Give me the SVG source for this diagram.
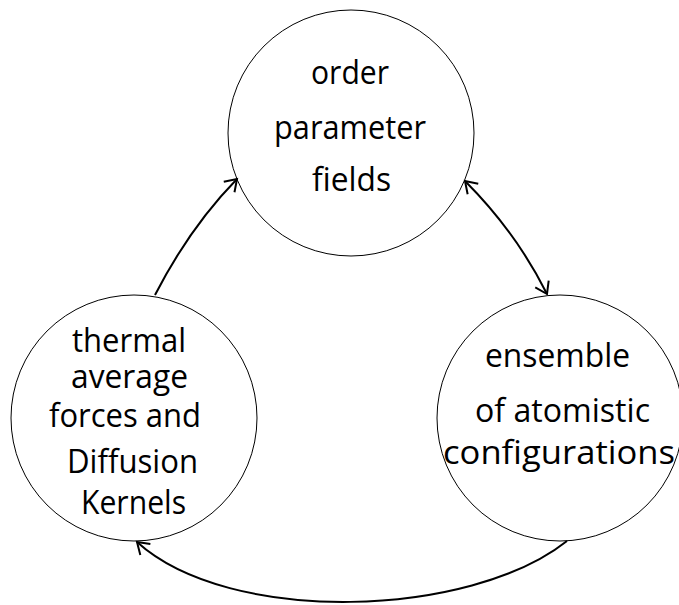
<svg xmlns="http://www.w3.org/2000/svg" width="679" height="605" viewBox="0 0 679 605">
<style>
.node{fill:#fff;stroke:#000;stroke-width:1}
.lbl{font-family:"Open Sans","Noto Sans",sans-serif;font-size:32px;fill:#000;text-anchor:middle}
.edge{fill:none;stroke:#000;stroke-width:2}
</style>
<defs>
<marker id="arr" markerUnits="userSpaceOnUse" markerWidth="20" markerHeight="20" viewBox="-12 -8 14 16" refX="0" refY="0" orient="auto-start-reverse">
<path d="M-9,-6 L0,0 L-9,6" fill="none" stroke="#000" stroke-width="1.6"/>
</marker>
</defs>
<rect width="679" height="605" fill="#fff"/>
<g id="n-order">
<circle class="node" cx="351" cy="133" r="123"/>
<text class="lbl" x="350" y="84" textLength="78" lengthAdjust="spacingAndGlyphs">order</text>
<text class="lbl" x="350" y="139" textLength="152" lengthAdjust="spacingAndGlyphs">parameter</text>
<text class="lbl" x="351.5" y="191" textLength="79" lengthAdjust="spacingAndGlyphs">fields</text>
</g>
<g id="n-thermal">
<circle class="node" cx="134" cy="418" r="123"/>
<text class="lbl" x="129" y="352" textLength="114" lengthAdjust="spacingAndGlyphs">thermal</text>
<text class="lbl" x="129.5" y="388" textLength="117" lengthAdjust="spacingAndGlyphs">average</text>
<text class="lbl" x="125" y="427" textLength="152" lengthAdjust="spacingAndGlyphs">forces and</text>
<text class="lbl" x="132.5" y="473" textLength="131" lengthAdjust="spacingAndGlyphs">Diffusion</text>
<text class="lbl" x="133.5" y="514" textLength="105" lengthAdjust="spacingAndGlyphs">Kernels</text>
</g>
<g id="n-ensemble">
<circle class="node" cx="560" cy="418" r="123"/>
<text class="lbl" x="557.5" y="367" textLength="145" lengthAdjust="spacingAndGlyphs">ensemble</text>
<text class="lbl" x="562.5" y="422" textLength="175" lengthAdjust="spacingAndGlyphs">of atomistic</text>
<text class="lbl" x="559" y="464" textLength="232" lengthAdjust="spacingAndGlyphs">configurations</text>
</g>
<g id="connectors">
<path class="edge" d="M155,295 Q190,227 237,179" marker-end="url(#arr)"/>
<path class="edge" d="M465,181 Q516,232 547,294" marker-start="url(#arr)" marker-end="url(#arr)"/>
<path class="edge" d="M567,541 C470,618 230,626 137,542" marker-end="url(#arr)"/>
</g>
</svg>
